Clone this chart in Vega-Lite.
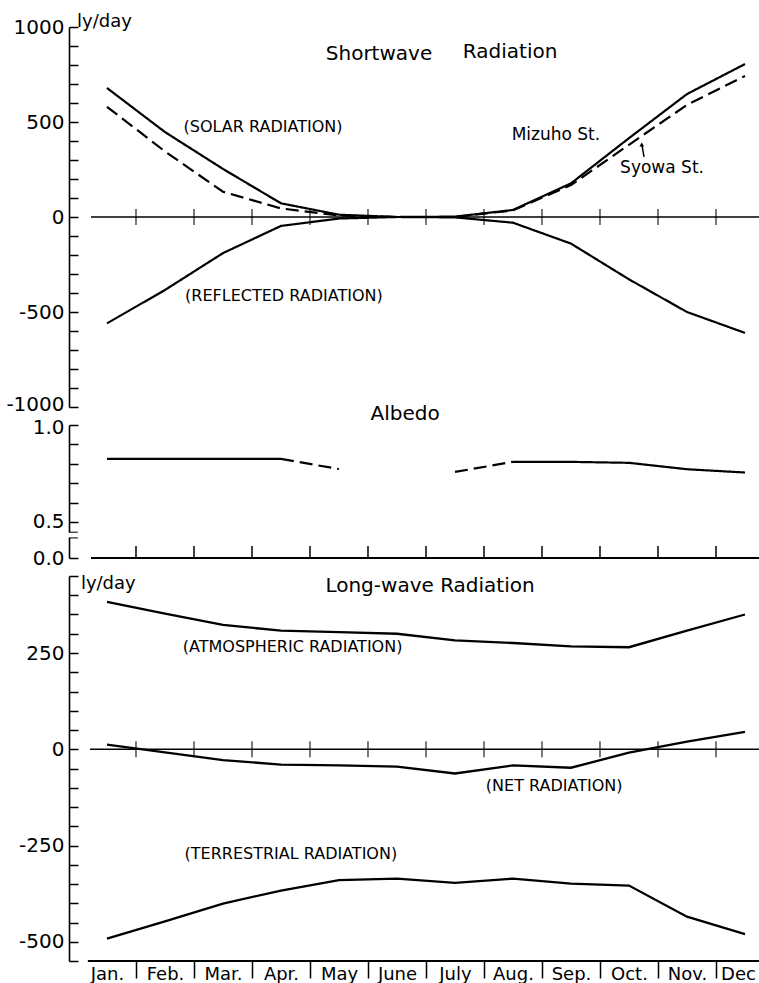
{
  "$schema": "https://vega.github.io/schema/vega-lite/v6.json",
  "background": "white",
  "padding": {"left": 5, "top": 13, "right": 0, "bottom": 0},
  "bounds": "flush",
  "spacing": 18,
  "config": {
    "view": {"stroke": null},
    "font": "DejaVu Sans",
    "text": {"font": "DejaVu Sans", "color": "black"},
    "axis": {"labelFont": "DejaVu Sans", "labelColor": "black", "tickColor": "black", "domainColor": "black", "grid": false, "labelFlush": false, "labelOverlap": false, "labelBound": false}
  },
  "datasets": {
    "bounds": [{"b": 1}, {"b": 2}, {"b": 3}, {"b": 4}, {"b": 5}, {"b": 6}, {"b": 7}, {"b": 8}, {"b": 9}, {"b": 10}, {"b": 11}],
    "shortwave": [
      {"month": "Jan", "month_pos": 0.5, "series": "solar_mizuho", "station": "Mizuho St.", "value": 679},
      {"month": "Feb", "month_pos": 1.5, "series": "solar_mizuho", "station": "Mizuho St.", "value": 447},
      {"month": "Mar", "month_pos": 2.5, "series": "solar_mizuho", "station": "Mizuho St.", "value": 253},
      {"month": "Apr", "month_pos": 3.5, "series": "solar_mizuho", "station": "Mizuho St.", "value": 72},
      {"month": "May", "month_pos": 4.5, "series": "solar_mizuho", "station": "Mizuho St.", "value": 12},
      {"month": "Jun", "month_pos": 5.5, "series": "solar_mizuho", "station": "Mizuho St.", "value": 0},
      {"month": "Jul", "month_pos": 6.5, "series": "solar_mizuho", "station": "Mizuho St.", "value": 2},
      {"month": "Aug", "month_pos": 7.5, "series": "solar_mizuho", "station": "Mizuho St.", "value": 37},
      {"month": "Sep", "month_pos": 8.5, "series": "solar_mizuho", "station": "Mizuho St.", "value": 177},
      {"month": "Oct", "month_pos": 9.5, "series": "solar_mizuho", "station": "Mizuho St.", "value": 415},
      {"month": "Nov", "month_pos": 10.5, "series": "solar_mizuho", "station": "Mizuho St.", "value": 647},
      {"month": "Dec", "month_pos": 11.5, "series": "solar_mizuho", "station": "Mizuho St.", "value": 805},
      {"month": "Jan", "month_pos": 0.5, "series": "solar_syowa", "station": "Syowa St.", "value": 580},
      {"month": "Feb", "month_pos": 1.5, "series": "solar_syowa", "station": "Syowa St.", "value": 345},
      {"month": "Mar", "month_pos": 2.5, "series": "solar_syowa", "station": "Syowa St.", "value": 133},
      {"month": "Apr", "month_pos": 3.5, "series": "solar_syowa", "station": "Syowa St.", "value": 45},
      {"month": "May", "month_pos": 4.5, "series": "solar_syowa", "station": "Syowa St.", "value": 8},
      {"month": "Jun", "month_pos": 5.5, "series": "solar_syowa", "station": "Syowa St.", "value": 0},
      {"month": "Jul", "month_pos": 6.5, "series": "solar_syowa", "station": "Syowa St.", "value": 0},
      {"month": "Aug", "month_pos": 7.5, "series": "solar_syowa", "station": "Syowa St.", "value": 35},
      {"month": "Sep", "month_pos": 8.5, "series": "solar_syowa", "station": "Syowa St.", "value": 168},
      {"month": "Oct", "month_pos": 9.5, "series": "solar_syowa", "station": "Syowa St.", "value": 380},
      {"month": "Nov", "month_pos": 10.5, "series": "solar_syowa", "station": "Syowa St.", "value": 590},
      {"month": "Dec", "month_pos": 11.5, "series": "solar_syowa", "station": "Syowa St.", "value": 742},
      {"month": "Jan", "month_pos": 0.5, "series": "reflected_mizuho", "station": "Mizuho St.", "value": -560},
      {"month": "Feb", "month_pos": 1.5, "series": "reflected_mizuho", "station": "Mizuho St.", "value": -384},
      {"month": "Mar", "month_pos": 2.5, "series": "reflected_mizuho", "station": "Mizuho St.", "value": -190},
      {"month": "Apr", "month_pos": 3.5, "series": "reflected_mizuho", "station": "Mizuho St.", "value": -47},
      {"month": "May", "month_pos": 4.5, "series": "reflected_mizuho", "station": "Mizuho St.", "value": -8},
      {"month": "Jun", "month_pos": 5.5, "series": "reflected_mizuho", "station": "Mizuho St.", "value": 0},
      {"month": "Jul", "month_pos": 6.5, "series": "reflected_mizuho", "station": "Mizuho St.", "value": -2},
      {"month": "Aug", "month_pos": 7.5, "series": "reflected_mizuho", "station": "Mizuho St.", "value": -30},
      {"month": "Sep", "month_pos": 8.5, "series": "reflected_mizuho", "station": "Mizuho St.", "value": -140},
      {"month": "Oct", "month_pos": 9.5, "series": "reflected_mizuho", "station": "Mizuho St.", "value": -328},
      {"month": "Nov", "month_pos": 10.5, "series": "reflected_mizuho", "station": "Mizuho St.", "value": -500},
      {"month": "Dec", "month_pos": 11.5, "series": "reflected_mizuho", "station": "Mizuho St.", "value": -610}
    ],
    "albedo": [
      {"month": "Jan", "month_pos": 0.5, "albedo": 0.825, "segment": "a", "kind": "measured"},
      {"month": "Feb", "month_pos": 1.5, "albedo": 0.825, "segment": "a", "kind": "measured"},
      {"month": "Mar", "month_pos": 2.5, "albedo": 0.825, "segment": "a", "kind": "measured"},
      {"month": "Apr", "month_pos": 3.5, "albedo": 0.825, "segment": "a", "kind": "measured"},
      {"month": "Apr", "month_pos": 3.5, "albedo": 0.825, "segment": "b", "kind": "estimated"},
      {"month": "May", "month_pos": 4.5, "albedo": 0.773, "segment": "b", "kind": "estimated"},
      {"month": "Jul", "month_pos": 6.5, "albedo": 0.758, "segment": "c", "kind": "estimated"},
      {"month": "Aug", "month_pos": 7.5, "albedo": 0.81, "segment": "c", "kind": "estimated"},
      {"month": "Aug", "month_pos": 7.5, "albedo": 0.81, "segment": "d", "kind": "measured"},
      {"month": "Sep", "month_pos": 8.5, "albedo": 0.81, "segment": "d", "kind": "measured"},
      {"month": "Oct", "month_pos": 9.5, "albedo": 0.805, "segment": "d", "kind": "measured"},
      {"month": "Nov", "month_pos": 10.5, "albedo": 0.772, "segment": "d", "kind": "measured"},
      {"month": "Dec", "month_pos": 11.5, "albedo": 0.755, "segment": "d", "kind": "measured"}
    ],
    "longwave": [
      {"month": "Jan", "month_pos": 0.5, "series": "atmospheric", "value": 383},
      {"month": "Feb", "month_pos": 1.5, "series": "atmospheric", "value": 352},
      {"month": "Mar", "month_pos": 2.5, "series": "atmospheric", "value": 323},
      {"month": "Apr", "month_pos": 3.5, "series": "atmospheric", "value": 308},
      {"month": "May", "month_pos": 4.5, "series": "atmospheric", "value": 304},
      {"month": "Jun", "month_pos": 5.5, "series": "atmospheric", "value": 300},
      {"month": "Jul", "month_pos": 6.5, "series": "atmospheric", "value": 283},
      {"month": "Aug", "month_pos": 7.5, "series": "atmospheric", "value": 276},
      {"month": "Sep", "month_pos": 8.5, "series": "atmospheric", "value": 267},
      {"month": "Oct", "month_pos": 9.5, "series": "atmospheric", "value": 265},
      {"month": "Nov", "month_pos": 10.5, "series": "atmospheric", "value": 308},
      {"month": "Dec", "month_pos": 11.5, "series": "atmospheric", "value": 350},
      {"month": "Jan", "month_pos": 0.5, "series": "terrestrial", "value": -492},
      {"month": "Feb", "month_pos": 1.5, "series": "terrestrial", "value": -447},
      {"month": "Mar", "month_pos": 2.5, "series": "terrestrial", "value": -401},
      {"month": "Apr", "month_pos": 3.5, "series": "terrestrial", "value": -367},
      {"month": "May", "month_pos": 4.5, "series": "terrestrial", "value": -340},
      {"month": "Jun", "month_pos": 5.5, "series": "terrestrial", "value": -336},
      {"month": "Jul", "month_pos": 6.5, "series": "terrestrial", "value": -347},
      {"month": "Aug", "month_pos": 7.5, "series": "terrestrial", "value": -336},
      {"month": "Sep", "month_pos": 8.5, "series": "terrestrial", "value": -349},
      {"month": "Oct", "month_pos": 9.5, "series": "terrestrial", "value": -354},
      {"month": "Nov", "month_pos": 10.5, "series": "terrestrial", "value": -435},
      {"month": "Dec", "month_pos": 11.5, "series": "terrestrial", "value": -480},
      {"month": "Jan", "month_pos": 0.5, "series": "net", "value": 12},
      {"month": "Feb", "month_pos": 1.5, "series": "net", "value": -8},
      {"month": "Mar", "month_pos": 2.5, "series": "net", "value": -28},
      {"month": "Apr", "month_pos": 3.5, "series": "net", "value": -40},
      {"month": "May", "month_pos": 4.5, "series": "net", "value": -42},
      {"month": "Jun", "month_pos": 5.5, "series": "net", "value": -45},
      {"month": "Jul", "month_pos": 6.5, "series": "net", "value": -63},
      {"month": "Aug", "month_pos": 7.5, "series": "net", "value": -42},
      {"month": "Sep", "month_pos": 8.5, "series": "net", "value": -48},
      {"month": "Oct", "month_pos": 9.5, "series": "net", "value": -9},
      {"month": "Nov", "month_pos": 10.5, "series": "net", "value": 20},
      {"month": "Dec", "month_pos": 11.5, "series": "net", "value": 45}
    ]
  },
  "vconcat": [
    {
      "width": 691,
      "height": 380,
      "resolve": {"axis": {"x": "independent", "y": "independent"}},
      "layer": [
        {
          "data": {"values": [{}]},
          "mark": {"type": "rule", "color": "black", "strokeWidth": 1.5},
          "encoding": {
            "x": {"datum": 0.224, "scale": {"domain": [-0.155, 11.759], "nice": false, "zero": false}, "axis": null},
            "x2": {"datum": 11.759},
            "y": {"datum": 0, "scale": {"domain": [-1000, 1000], "nice": false, "zero": false},
              "axis": {"orient": "left", "title": null, "values": [-1000, -900, -800, -700, -600, -500, -400, -300, -200, -100, 0, 100, 200, 300, 400, 500, 600, 700, 800, 900, 1000],
                "labelExpr": "datum.value % 500 === 0 ? '' + datum.value : ''", "labelFontSize": 20, "tickSize": -9, "labelPadding": 14, "domainWidth": 1.6, "tickWidth": 1.5,
                "labelOffset": {"condition": {"test": "datum.value === -1000", "value": -3}, "value": 0}}}
          }
        },
        {
          "data": {"name": "bounds"},
          "mark": {"type": "tick", "orient": "vertical", "size": 16, "thickness": 1.5, "color": "black"},
          "encoding": {
            "x": {"field": "b", "type": "quantitative", "scale": {"domain": [-0.155, 11.759], "nice": false, "zero": false}, "axis": null},
            "y": {"datum": 0, "scale": {"domain": [-1000, 1000], "nice": false, "zero": false}, "axis": null}
          }
        },
        {
          "data": {"name": "shortwave"},
          "mark": {"type": "line", "color": "black", "strokeWidth": 2.2},
          "encoding": {
            "x": {"field": "month_pos", "type": "quantitative", "scale": {"domain": [-0.155, 11.759], "nice": false, "zero": false}, "axis": null},
            "y": {"field": "value", "type": "quantitative", "scale": {"domain": [-1000, 1000], "nice": false, "zero": false}, "axis": null},
            "detail": {"field": "series"},
            "strokeDash": {"field": "station", "type": "nominal", "scale": {"domain": ["Mizuho St.", "Syowa St."], "range": [[1, 0], [13, 6]]}, "legend": null}
          }
        },
        {
          "data": {"values": [{}]},
          "mark": {"type": "rule", "color": "black", "strokeWidth": 1.5},
          "encoding": {
            "x": {"datum": 9.76, "scale": {"domain": [-0.155, 11.759], "nice": false, "zero": false}, "axis": null},
            "x2": {"datum": 9.72},
            "y": {"datum": 316, "scale": {"domain": [-1000, 1000], "nice": false, "zero": false}, "axis": null},
            "y2": {"datum": 385}
          }
        },
        {
          "data": {"values": [{}]},
          "mark": {"type": "point", "shape": "triangle-up", "filled": true, "color": "black", "size": 22, "opacity": 1},
          "encoding": {
            "x": {"datum": 9.72, "scale": {"domain": [-0.155, 11.759], "nice": false, "zero": false}, "axis": null},
            "y": {"datum": 382, "scale": {"domain": [-1000, 1000], "nice": false, "zero": false}, "axis": null}
          }
        },
        {
          "data": {"values": [{}]},
          "mark": {"type": "text", "text": "ly/day", "fontSize": 18, "align": "left", "baseline": "middle"},
          "encoding": {
            "x": {"datum": -0.017, "scale": {"domain": [-0.155, 11.759], "nice": false, "zero": false}, "axis": null},
            "y": {"datum": 1026, "scale": {"domain": [-1000, 1000], "nice": false, "zero": false}, "axis": null}
          }
        },
        {
          "data": {"values": [{}]},
          "mark": {"type": "text", "text": "Shortwave", "fontSize": 20, "align": "center", "baseline": "middle"},
          "encoding": {
            "x": {"datum": 5.19, "scale": {"domain": [-0.155, 11.759], "nice": false, "zero": false}, "axis": null},
            "y": {"datum": 858, "scale": {"domain": [-1000, 1000], "nice": false, "zero": false}, "axis": null}
          }
        },
        {
          "data": {"values": [{}]},
          "mark": {"type": "text", "text": "Radiation", "fontSize": 20, "align": "center", "baseline": "middle"},
          "encoding": {
            "x": {"datum": 7.45, "scale": {"domain": [-0.155, 11.759], "nice": false, "zero": false}, "axis": null},
            "y": {"datum": 868, "scale": {"domain": [-1000, 1000], "nice": false, "zero": false}, "axis": null}
          }
        },
        {
          "data": {"values": [{}]},
          "mark": {"type": "text", "text": "(SOLAR RADIATION)", "fontSize": 16, "align": "center", "baseline": "middle"},
          "encoding": {
            "x": {"datum": 3.19, "scale": {"domain": [-0.155, 11.759], "nice": false, "zero": false}, "axis": null},
            "y": {"datum": 474, "scale": {"domain": [-1000, 1000], "nice": false, "zero": false}, "axis": null}
          }
        },
        {
          "data": {"values": [{}]},
          "mark": {"type": "text", "text": "(REFLECTED RADIATION)", "fontSize": 16, "align": "center", "baseline": "middle"},
          "encoding": {
            "x": {"datum": 3.55, "scale": {"domain": [-0.155, 11.759], "nice": false, "zero": false}, "axis": null},
            "y": {"datum": -416, "scale": {"domain": [-1000, 1000], "nice": false, "zero": false}, "axis": null}
          }
        },
        {
          "data": {"values": [{}]},
          "mark": {"type": "text", "text": "Mizuho St.", "fontSize": 17, "align": "center", "baseline": "middle"},
          "encoding": {
            "x": {"datum": 8.24, "scale": {"domain": [-0.155, 11.759], "nice": false, "zero": false}, "axis": null},
            "y": {"datum": 432, "scale": {"domain": [-1000, 1000], "nice": false, "zero": false}, "axis": null}
          }
        },
        {
          "data": {"values": [{}]},
          "mark": {"type": "text", "text": "Syowa St.", "fontSize": 17, "align": "center", "baseline": "middle"},
          "encoding": {
            "x": {"datum": 10.07, "scale": {"domain": [-0.155, 11.759], "nice": false, "zero": false}, "axis": null},
            "y": {"datum": 258, "scale": {"domain": [-1000, 1000], "nice": false, "zero": false}, "axis": null}
          }
        }
      ]
    },
    {
      "width": 691,
      "height": 133,
      "resolve": {"axis": {"x": "independent", "y": "independent"}},
      "layer": [
        {
          "data": {"values": [{}]},
          "mark": {"type": "rule", "color": "black", "strokeWidth": 1.8},
          "encoding": {
            "x": {"datum": 0.224, "scale": {"domain": [-0.155, 11.759], "nice": false, "zero": false}, "axis": null},
            "x2": {"datum": 11.759},
            "y": {"datum": 0.3144, "scale": {"domain": [0.3144, 1.0], "nice": false, "zero": false},
              "axis": {"orient": "left", "title": null, "values": [0.3144, 0.5, 0.6, 0.7, 0.8, 0.9, 1.0],
                "labelExpr": "datum.value > 0.99 ? '1.0' : (abs(datum.value - 0.5) < 0.01 ? '0.5' : (datum.value < 0.4 ? '0.0' : ''))", "labelFontSize": 20, "tickSize": -9, "labelPadding": 14, "domainWidth": 1.6, "tickWidth": 1.5,
                "labelOffset": {"condition": {"test": "datum.value > 0.99", "value": 2}, "value": 0}}}
          }
        },
        {
          "data": {"name": "bounds"},
          "mark": {"type": "rule", "color": "black", "strokeWidth": 1.5},
          "encoding": {
            "x": {"field": "b", "type": "quantitative", "scale": {"domain": [-0.155, 11.759], "nice": false, "zero": false}, "axis": null},
            "y": {"datum": 0.3144, "scale": {"domain": [0.3144, 1.0], "nice": false, "zero": false}, "axis": null},
            "y2": {"datum": 0.376}
          }
        },
        {
          "data": {"values": [{}]},
          "mark": {"type": "rule", "color": "white", "strokeWidth": 6},
          "encoding": {
            "x": {"datum": -0.155, "scale": {"domain": [-0.155, 11.759], "nice": false, "zero": false}, "axis": null},
            "y": {"datum": 0.447, "scale": {"domain": [0.3144, 1.0], "nice": false, "zero": false}, "axis": null},
            "y2": {"datum": 0.418}
          }
        },
        {
          "data": {"values": [{"edge": 0.447}, {"edge": 0.418}]},
          "mark": {"type": "tick", "orient": "horizontal", "size": 9, "thickness": 1.5, "color": "black"},
          "encoding": {
            "x": {"datum": -0.08, "scale": {"domain": [-0.155, 11.759], "nice": false, "zero": false}, "axis": null},
            "y": {"field": "edge", "type": "quantitative", "scale": {"domain": [0.3144, 1.0], "nice": false, "zero": false}, "axis": null}
          }
        },
        {
          "data": {"name": "albedo"},
          "mark": {"type": "line", "color": "black", "strokeWidth": 2.2},
          "encoding": {
            "x": {"field": "month_pos", "type": "quantitative", "scale": {"domain": [-0.155, 11.759], "nice": false, "zero": false}, "axis": null},
            "y": {"field": "albedo", "type": "quantitative", "scale": {"domain": [0.3144, 1.0], "nice": false, "zero": false}, "axis": null},
            "detail": {"field": "segment"},
            "strokeDash": {"field": "kind", "type": "nominal", "scale": {"domain": ["measured", "estimated"], "range": [[1, 0], [6, 4]]}, "legend": null}
          }
        },
        {
          "data": {"values": [{}]},
          "mark": {"type": "text", "text": "Albedo", "fontSize": 20, "align": "center", "baseline": "middle"},
          "encoding": {
            "x": {"datum": 5.64, "scale": {"domain": [-0.155, 11.759], "nice": false, "zero": false}, "axis": null},
            "y": {"datum": 1.057, "scale": {"domain": [0.3144, 1.0], "nice": false, "zero": false}, "axis": null}
          }
        }
      ]
    },
    {
      "width": 691,
      "height": 385,
      "resolve": {"axis": {"x": "independent", "y": "independent"}},
      "layer": [
        {
          "data": {"values": [{}]},
          "mark": {"type": "rule", "color": "black", "strokeWidth": 1.5},
          "encoding": {
            "x": {"datum": 0.207, "scale": {"domain": [-0.155, 11.759], "nice": false, "zero": false}, "axis": null},
            "x2": {"datum": 11.759},
            "y": {"datum": 0, "scale": {"domain": [-550, 450], "nice": false, "zero": false},
              "axis": {"orient": "left", "title": null, "values": [-550, -500, -450, -400, -350, -300, -250, -200, -150, -100, -50, 0, 50, 100, 150, 200, 250, 300, 350, 400, 450],
                "labelExpr": "datum.value % 250 === 0 ? '' + datum.value : ''", "labelFontSize": 20, "tickSize": -9, "labelPadding": 14, "domainWidth": 1.6, "tickWidth": 1.5}}
          }
        },
        {
          "data": {"name": "bounds"},
          "mark": {"type": "tick", "orient": "vertical", "size": 16, "thickness": 1.5, "color": "black"},
          "encoding": {
            "x": {"field": "b", "type": "quantitative", "scale": {"domain": [-0.155, 11.759], "nice": false, "zero": false}, "axis": null},
            "y": {"datum": 0, "scale": {"domain": [-550, 450], "nice": false, "zero": false}, "axis": null}
          }
        },
        {
          "data": {"values": [{}]},
          "mark": {"type": "rule", "color": "black", "strokeWidth": 2},
          "encoding": {
            "x": {"datum": 0.17, "scale": {"domain": [-0.155, 11.759], "nice": false, "zero": false},
              "axis": {"orient": "bottom", "title": null, "domain": false, "values": [0, 1, 2, 3, 4, 5, 6, 7, 8, 9, 10, 11],
                "labelExpr": "['Jan.', 'Feb.', 'Mar.', 'Apr.', 'May', 'June', 'July', 'Aug.', 'Sep.', 'Oct.', 'Nov.', 'Dec'][datum.value]",
                "labelOffset": {"condition": {"test": "datum.value === 11", "value": 22}, "value": 29},
                "labelFontSize": 18, "tickSize": 17, "tickWidth": 1.5, "labelPadding": -13,
                "tickOpacity": {"condition": {"test": "datum.value === 0", "value": 0}, "value": 1}}},
            "x2": {"datum": 11.759},
            "y": {"datum": -550, "scale": {"domain": [-550, 450], "nice": false, "zero": false}, "axis": null}
          }
        },
        {
          "data": {"name": "longwave"},
          "mark": {"type": "line", "color": "black", "strokeWidth": 2.3},
          "encoding": {
            "x": {"field": "month_pos", "type": "quantitative", "scale": {"domain": [-0.155, 11.759], "nice": false, "zero": false}, "axis": null},
            "y": {"field": "value", "type": "quantitative", "scale": {"domain": [-550, 450], "nice": false, "zero": false}, "axis": null},
            "detail": {"field": "series"}
          }
        },
        {
          "data": {"values": [{}]},
          "mark": {"type": "text", "text": "ly/day", "fontSize": 18, "align": "left", "baseline": "middle"},
          "encoding": {
            "x": {"datum": 0.05, "scale": {"domain": [-0.155, 11.759], "nice": false, "zero": false}, "axis": null},
            "y": {"datum": 429, "scale": {"domain": [-550, 450], "nice": false, "zero": false}, "axis": null}
          }
        },
        {
          "data": {"values": [{}]},
          "mark": {"type": "text", "text": "Long-wave Radiation", "fontSize": 20, "align": "center", "baseline": "middle"},
          "encoding": {
            "x": {"datum": 6.07, "scale": {"domain": [-0.155, 11.759], "nice": false, "zero": false}, "axis": null},
            "y": {"datum": 424, "scale": {"domain": [-550, 450], "nice": false, "zero": false}, "axis": null}
          }
        },
        {
          "data": {"values": [{}]},
          "mark": {"type": "text", "text": "(ATMOSPHERIC RADIATION)", "fontSize": 16, "align": "center", "baseline": "middle"},
          "encoding": {
            "x": {"datum": 3.70, "scale": {"domain": [-0.155, 11.759], "nice": false, "zero": false}, "axis": null},
            "y": {"datum": 266, "scale": {"domain": [-550, 450], "nice": false, "zero": false}, "axis": null}
          }
        },
        {
          "data": {"values": [{}]},
          "mark": {"type": "text", "text": "(NET RADIATION)", "fontSize": 16, "align": "center", "baseline": "middle"},
          "encoding": {
            "x": {"datum": 8.21, "scale": {"domain": [-0.155, 11.759], "nice": false, "zero": false}, "axis": null},
            "y": {"datum": -95, "scale": {"domain": [-550, 450], "nice": false, "zero": false}, "axis": null}
          }
        },
        {
          "data": {"values": [{}]},
          "mark": {"type": "text", "text": "(TERRESTRIAL RADIATION)", "fontSize": 16, "align": "center", "baseline": "middle"},
          "encoding": {
            "x": {"datum": 3.67, "scale": {"domain": [-0.155, 11.759], "nice": false, "zero": false}, "axis": null},
            "y": {"datum": -271, "scale": {"domain": [-550, 450], "nice": false, "zero": false}, "axis": null}
          }
        }
      ]
    }
  ]
}
